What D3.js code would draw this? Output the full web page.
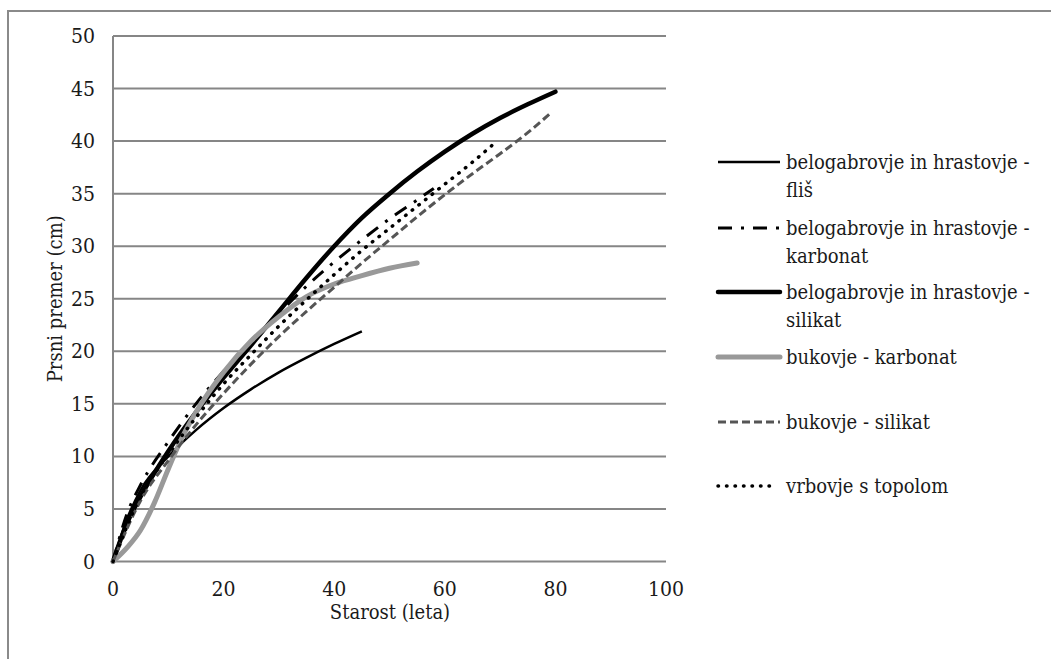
<!DOCTYPE html>
<html>
<head>
<meta charset="utf-8">
<script src="https://cdnjs.cloudflare.com/ajax/libs/d3/7.8.5/d3.min.js"></script>
<style>
  body { margin: 0; background: #fff; }
  svg text { font-family: "DejaVu Serif Condensed", "DejaVu Serif", serif; font-stretch: condensed; fill: #1a1a1a; }
</style>
</head>
<body>
<script>
// series names (legend order)
var names = [
  ['belogabrovje in hrastovje -', 'fliš'],
  ['belogabrovje in hrastovje -', 'karbonat'],
  ['belogabrovje in hrastovje -', 'silikat'],
  ['bukovje - karbonat'],
  ['bukovje - silikat'],
  ['vrbovje s topolom']
];

// age (years) / diameter (cm)
var flisAge = [0, 2.5, 5, 10, 15, 20, 25, 30, 35, 40, 45];
var flisVal = [0, 4.0, 6.8, 10.0, 12.5, 14.6, 16.4, 18.0, 19.4, 20.7, 21.9];

var karbAge = [0, 2.5, 5, 10, 15, 20, 25, 30, 35, 40, 45, 50, 55, 58];
var karbVal = [0, 4.5, 7.3, 11.4, 15.0, 18.1, 20.9, 23.6, 26.2, 28.5, 30.6, 32.6, 34.4, 35.5];

var silAge = [0, 2.5, 5, 10, 15, 20, 25, 30, 35, 40, 45, 50, 55, 60, 65, 70, 75, 80];
var silVal = [0, 3.6, 6.2, 10.5, 14.2, 17.5, 20.6, 23.8, 27.0, 30.0, 32.7, 35.0, 37.1, 39.0, 40.7, 42.2, 43.5, 44.7];

var bukKarbAge = [0, 2.5, 5, 7.5, 10, 12.5, 15, 20, 25, 30, 35, 40, 45, 50, 55];
var bukKarbVal = [0, 1.3, 3.0, 5.6, 8.8, 11.8, 14.2, 18.0, 21.0, 23.3, 25.2, 26.4, 27.2, 27.9, 28.4];

var bukSilAge = [0, 5, 10, 15, 20, 25, 30, 35, 40, 45, 50, 55, 60, 65, 70, 75, 79];
var bukSilVal = [0, 5.8, 9.6, 13.0, 16.0, 18.8, 21.4, 23.8, 26.1, 28.4, 30.6, 32.8, 34.9, 36.9, 38.8, 40.8, 42.6];

var vrbAge = [0, 5, 10, 15, 20, 25, 30, 35, 40, 45, 50, 55, 60, 65, 69];
var vrbVal = [0, 6.2, 10.2, 13.7, 16.9, 19.7, 22.4, 24.9, 27.3, 29.6, 31.7, 33.8, 35.9, 38.0, 39.8];

var xTicks = [0, 20, 40, 60, 80, 100];
var yTicks = [0, 5, 10, 15, 20, 25, 30, 35, 40, 45, 50];

var series = [
  { age: flisAge, val: flisVal, color: '#000', width: 2.5, dash: null, cap: 'butt' },
  { age: karbAge, val: karbVal, color: '#000', width: 3, dash: '14,9,3,9', cap: 'butt' },
  { age: silAge, val: silVal, color: '#000', width: 4.5, dash: null, cap: 'round' },
  { age: bukKarbAge, val: bukKarbVal, color: '#999', width: 5, dash: null, cap: 'round' },
  { age: bukSilAge, val: bukSilVal, color: '#555', width: 3, dash: '8,4', cap: 'butt' },
  { age: vrbAge, val: vrbVal, color: '#000', width: 3.5, dash: '0.5,8', cap: 'round' }
];

var W = 1051, H = 659;
var svg = d3.select('body').append('svg')
  .attr('width', W).attr('height', H);

// outer frame
svg.append('rect')
  .attr('x', 8).attr('y', 11)
  .attr('width', W + 20).attr('height', H + 20)
  .attr('fill', 'none').attr('stroke', '#8a8a8a').attr('stroke-width', 2);

var x = d3.scaleLinear().domain([0, 100]).range([113, 666]);
var y = d3.scaleLinear().domain([0, 50]).range([561.5, 36]);

// grid lines
svg.append('g')
  .selectAll('line')
  .data(yTicks)
  .enter()
  .append('line')
  .attr('x1', x(0)).attr('x2', x(100))
  .attr('y1', d => y(d)).attr('y2', d => y(d))
  .attr('stroke', '#868686').attr('stroke-width', 2);

svg.append('line')
  .attr('x1', x(0)).attr('x2', x(0))
  .attr('y1', y(0)).attr('y2', y(50))
  .attr('stroke', '#868686').attr('stroke-width', 2);

// tick labels
svg.append('g')
  .selectAll('text')
  .data(yTicks)
  .enter()
  .append('text')
  .attr('x', 95)
  .attr('y', d => y(d) + 7)
  .attr('text-anchor', 'end')
  .style('font-size', '21px')
  .text(d => d);

svg.append('g')
  .selectAll('text')
  .data(xTicks)
  .enter()
  .append('text')
  .attr('x', d => x(d))
  .attr('y', 596)
  .attr('text-anchor', 'middle')
  .style('font-size', '21px')
  .text(d => d);

// axis titles
svg.append('text')
  .attr('text-anchor', 'middle')
  .attr('x', 390).attr('y', 619)
  .style('font-size', '20px')
  .text('Starost (leta)');

svg.append('text')
  .attr('text-anchor', 'middle')
  .attr('transform', 'translate(62,' + y(25) + ')rotate(-90)')
  .style('font-size', '20px')
  .text('Prsni premer (cm)');

// curves
var line = d3.line()
  .x(d => x(d[0]))
  .y(d => y(d[1]))
  .curve(d3.curveMonotoneX);

series.forEach(function(s) {
  var pts = s.age.map((a, i) => [a, s.val[i]]);
  var p = svg.append('path')
    .attr('d', line(pts))
    .attr('fill', 'none')
    .attr('stroke', s.color)
    .attr('stroke-width', s.width)
    .attr('stroke-linecap', s.cap);
  if (s.dash) p.attr('stroke-dasharray', s.dash);
});

// legend
var legY = [162, 228, 292, 357, 422, 486];
series.forEach(function(s, i) {
  var p = svg.append('line')
    .attr('x1', 718).attr('x2', s.cap == 'round' && s.dash ? 776 : 780)
    .attr('y1', legY[i]).attr('y2', legY[i])
    .attr('stroke', s.color)
    .attr('stroke-width', s.width)
    .attr('stroke-linecap', s.cap);
  if (s.dash) p.attr('stroke-dasharray', s.dash);
  names[i].forEach(function(t, j) {
    svg.append('text')
      .attr('x', 786)
      .attr('y', legY[i] + 7 + j * 28)
      .style('font-size', '20px')
      .text(t);
  });
});
</script>
</body>
</html>
